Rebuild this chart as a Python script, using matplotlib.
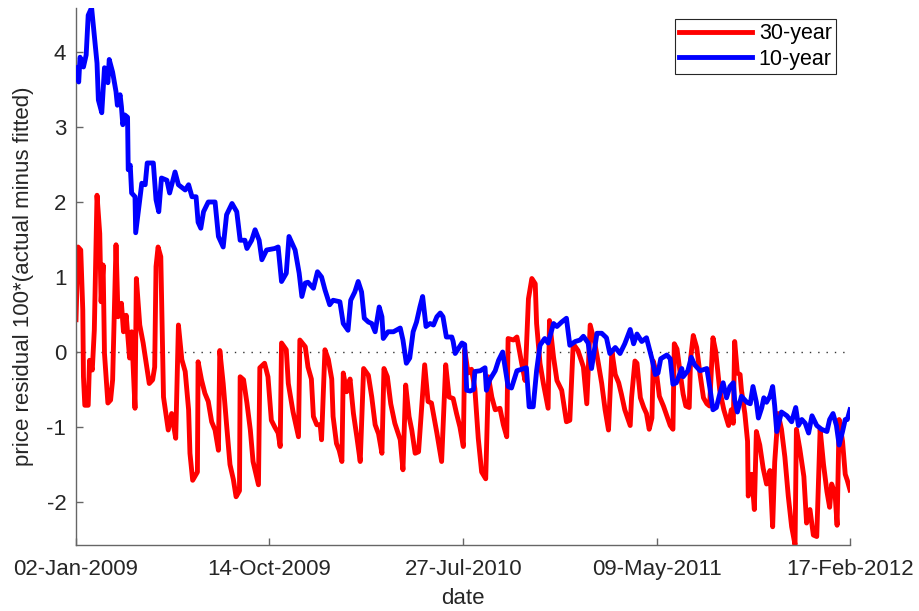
import numpy as np
import pandas as pd
import matplotlib
matplotlib.use('Agg')
import matplotlib.pyplot as plt

plt.rcParams['font.family'] = ['Liberation Sans', 'DejaVu Sans']
plt.rcParams['axes.unicode_minus'] = False

# first day of the sample
start = pd.Timestamp('2009-01-02')
end = pd.Timestamp('2012-02-17')

# 10-year residuals: days since start, value
days10 = [0, 4, 6, 11, 15, 18, 23, 31, 33, 38, 42, 47, 49, 54, 59, 61, 65, 67, 69, 72,
          76, 77, 80, 82, 87, 88, 94, 97, 102, 105, 114, 118, 122, 126, 134, 138, 146, 151, 161, 166,
          171, 177, 180, 184, 188, 195, 205, 210, 217, 222, 230, 237, 242, 249, 252, 259, 264, 270, 274, 281,
          293, 298, 303, 310, 314, 323, 329, 333, 338, 342, 350, 356, 362, 367, 374, 379, 389, 394, 401, 405,
          411, 416, 421, 425, 431, 436, 441, 447, 451, 453, 460, 468, 478, 482, 487, 492, 497, 502, 507, 511,
          516, 522, 527, 532, 537, 541, 546, 554, 556, 559, 564, 569, 573, 576, 581, 586, 588, 596, 603, 605,
          610, 618, 623, 629, 637, 642, 650, 657, 664, 668, 674, 679, 684, 691, 696, 704, 709, 716, 723, 728,
          736, 743, 748, 755, 760, 768, 775, 782, 787, 795, 802, 809, 817, 822, 827, 834, 841, 849, 854, 858,
          862, 871, 876, 880, 885, 893, 895, 902, 907, 912, 920, 930, 935, 939, 944, 949, 954, 959, 964, 969,
          971, 975, 981, 989, 994, 998, 1003, 1006, 1011, 1014, 1018, 1023, 1027, 1030, 1033, 1040, 1048, 1055, 1061, 1065,
          1070, 1075, 1080, 1085, 1092, 1099, 1107, 1111, 1116, 1121, 1125, 1130, 1134, 1137, 1141]
res10 = [3.79, 3.60, 3.93, 3.80, 3.96, 4.49, 4.59, 3.85, 3.36, 3.19, 3.79, 3.59, 3.90, 3.73, 3.47, 3.29, 3.43, 3.27, 3.03, 3.16,
         3.13, 2.43, 2.49, 2.12, 2.07, 1.59, 2.03, 2.25, 2.23, 2.52, 2.52, 2.03, 1.87, 2.32, 2.29, 2.12, 2.40, 2.23, 2.16, 2.23,
         2.07, 2.07, 1.73, 1.65, 1.87, 2.00, 2.00, 1.54, 1.40, 1.83, 1.98, 1.87, 1.49, 1.49, 1.38, 1.49, 1.63, 1.49, 1.23, 1.36,
         1.38, 1.40, 0.94, 1.05, 1.54, 1.36, 1.05, 0.74, 0.92, 0.93, 0.85, 1.07, 1.00, 0.83, 0.63, 0.69, 0.67, 0.38, 0.29, 0.69,
         0.80, 0.94, 0.80, 0.45, 0.40, 0.38, 0.27, 0.60, 0.47, 0.18, 0.27, 0.27, 0.32, 0.16, -0.15, -0.08, 0.27, 0.40, 0.60, 0.74,
         0.34, 0.38, 0.36, 0.47, 0.52, 0.47, 0.20, 0.20, 0.14, -0.02, 0.05, 0.12, 0.10, -0.51, -0.52, -0.50, -0.26, -0.25, -0.21, -0.51,
         -0.37, -0.25, -0.11, 0.00, -0.46, -0.48, -0.25, -0.23, -0.21, -0.73, -0.73, -0.25, 0.09, 0.18, 0.12, 0.38, 0.34, 0.40, 0.45, 0.09,
         0.14, 0.16, 0.21, 0.12, -0.22, 0.25, 0.25, 0.19, -0.02, 0.06, -0.02, 0.11, 0.30, 0.11, 0.24, 0.14, 0.19, -0.09, -0.30, -0.28,
         -0.09, -0.04, -0.09, -0.43, -0.41, -0.22, -0.33, -0.25, -0.07, -0.17, -0.25, -0.22, -0.51, -0.77, -0.74, -0.56, -0.41, -0.61, -0.46, -0.41,
         -0.64, -0.80, -0.59, -0.67, -0.69, -0.46, -0.67, -0.88, -0.74, -0.61, -0.67, -0.59, -0.46, -0.72, -1.06, -0.80, -0.85, -0.93, -0.74, -0.98,
         -0.90, -0.95, -1.08, -0.85, -0.98, -1.03, -1.06, -0.90, -0.82, -0.98, -1.24, -1.06, -0.90, -0.90, -0.77]

# 30-year residuals: days since start, value
days30 = [0, 3, 7, 10, 11, 13, 18, 20, 24, 27, 31, 35, 37, 40, 42, 47, 51, 54, 59, 62,
          67, 70, 74, 79, 82, 87, 89, 94, 99, 108, 113, 116, 118, 121, 125, 129, 136, 141, 147, 151,
          156, 161, 166, 168, 172, 179, 180, 185, 190, 195, 200, 205, 210, 212, 217, 222, 227, 232, 236, 241,
          242, 247, 252, 257, 261, 269, 271, 278, 283, 288, 293, 298, 301, 303, 310, 313, 320, 328, 330, 338,
          342, 347, 350, 355, 360, 362, 367, 372, 377, 379, 384, 388, 392, 394, 399, 404, 409, 414, 419, 424,
          431, 436, 441, 446, 451, 454, 459, 464, 470, 478, 482, 486, 491, 495, 500, 505, 514, 519, 524, 532,
          539, 545, 550, 556, 561, 566, 571, 573, 578, 583, 588, 593, 598, 604, 608, 613, 618, 625, 630, 635,
          637, 645, 650, 657, 662, 667, 672, 677, 679, 684, 689, 696, 698, 704, 709, 716, 723, 728, 733, 740,
          748, 753, 758, 765, 770, 775, 780, 785, 790, 795, 800, 804, 809, 817, 819, 824, 827, 832, 837, 841,
          845, 849, 851, 856, 860, 866, 871, 876, 880, 882, 886, 891, 895, 899, 904, 906, 910, 915, 920, 925,
          930, 934, 939, 943, 949, 955, 962, 966, 969, 971, 975, 979, 981, 986, 990, 991, 996, 1000, 1003, 1008,
          1013, 1018, 1023, 1027, 1030, 1035, 1040, 1045, 1050, 1055, 1060, 1062, 1067, 1073, 1077, 1082, 1087, 1092, 1097, 1102,
          1107, 1111, 1114, 1119, 1122, 1125, 1130, 1134, 1137, 1141]
res30 = [0.43, 1.40, 1.36, 0.56, -0.33, -0.71, -0.71, -0.11, -0.24, 0.29, 2.09, 1.58, 0.67, 1.16, -0.02, -0.68, -0.64, -0.37, 1.43, 0.47,
         0.65, 0.27, 0.49, -0.08, 0.27, -0.75, 0.98, 0.36, 0.12, -0.42, -0.37, -0.20, 1.14, 1.40, 1.27, -0.60, -1.04, -0.82, -1.15, 0.36,
         -0.10, -0.26, -0.77, -1.35, -1.71, -1.60, -0.13, -0.37, -0.55, -0.66, -0.93, -1.04, -1.31, 0.02, -0.42, -0.97, -1.50, -1.70, -1.93, -1.85,
         -0.33, -0.37, -0.68, -1.04, -1.46, -1.77, -0.21, -0.15, -0.33, -0.91, -1.00, -1.08, -1.26, 0.12, 0.03, -0.42, -0.80, -1.13, 0.16, 0.07,
         -0.20, -0.36, -0.86, -0.97, -0.97, -1.17, 0.03, -0.10, -0.36, -0.86, -1.22, -1.31, -1.46, -0.28, -0.53, -0.36, -0.82, -1.13, -1.46, -0.22,
         -0.31, -0.60, -0.97, -1.09, -1.35, -0.22, -0.33, -0.69, -0.95, -1.17, -1.57, -0.44, -0.86, -1.04, -1.35, -1.33, -0.17, -0.66, -0.68, -1.08,
         -1.46, -0.17, -0.60, -0.62, -0.82, -1.00, -1.26, 0.03, -0.28, -0.23, -0.49, -1.15, -1.60, -1.69, -0.33, -0.60, -0.77, -0.75, -0.97, -1.13,
         0.18, 0.16, 0.20, -0.15, -0.38, 0.71, 0.98, 0.91, 0.38, -0.15, -0.42, -0.75, 0.42, -0.07, -0.38, -0.51, -0.93, -0.91, 0.11, 0.02,
         -0.20, -0.69, 0.36, 0.11, -0.15, -0.42, -0.77, -1.04, 0.01, -0.30, -0.41, -0.56, -0.77, -0.98, -0.61, -0.12, -0.15, -0.61, -0.74, -0.82,
         -1.03, -0.88, -0.12, -0.30, -0.59, -0.72, -0.85, -0.98, -1.03, 0.11, 0.04, -0.30, -0.56, -0.72, -0.74, -0.09, 0.22, 0.06, -0.30, -0.61,
         -0.69, -0.72, 0.19, 0.01, -0.51, -0.77, -0.98, -0.77, -0.95, 0.14, -0.28, -0.30, -0.51, -0.82, -1.19, -1.92, -1.63, -2.10, -1.06, -1.24,
         -1.55, -1.76, -1.58, -2.33, -1.47, -0.82, -1.03, -1.40, -1.92, -2.33, -2.57, -1.03, -1.29, -1.66, -2.28, -2.10, -2.44, -2.46, -1.03, -1.50,
         -1.86, -2.07, -1.76, -1.89, -2.31, -0.90, -1.19, -1.63, -1.71, -1.84]

tick_labels = ['02-Jan-2009', '14-Oct-2009', '27-Jul-2010', '09-May-2011', '17-Feb-2012']
y_ticks = [-2, -1, 0, 1, 2, 3, 4]

dates10 = start + pd.to_timedelta(days10, unit='D')
dates30 = start + pd.to_timedelta(days30, unit='D')

fig = plt.figure(figsize=(9.2, 6.11), dpi=100)
ax = fig.add_axes([0.0826, 0.108, 0.8413, 0.879])

# linea punteada en cero
ax.plot([start, end], [0, 0], color='#333333', linewidth=1.0, dashes=(1, 5), zorder=1)

ax.plot(dates30, res30, color='#ff0000', linewidth=3.5, label='30-year', zorder=2)
ax.plot(dates10, res10, color='#0000ff', linewidth=3.5, label='10-year', zorder=3)

ax.set_xlim(start, end)
ax.set_ylim(-2.573, 4.587)

ax.set_xticks(pd.to_datetime(tick_labels, format='%d-%b-%Y'))
ax.set_xticklabels(tick_labels)
ax.set_yticks(y_ticks)

ax.spines['top'].set_visible(False)
ax.spines['right'].set_visible(False)
for s in ['left', 'bottom']:
    ax.spines[s].set_color('#666666')
    ax.spines[s].set_linewidth(1.0)

ax.tick_params(direction='in', length=5, width=1.0, color='#666666',
               labelsize=16, labelcolor='#262626')
ax.tick_params(axis='x', pad=10)
ax.tick_params(axis='y', pad=7)

ax.set_xlabel('date', fontsize=16, color='#262626', labelpad=6)
ax.set_ylabel('price residual 100*(actual minus fitted)', fontsize=16, color='#262626', labelpad=9)

leg = ax.legend(loc='upper right', bbox_to_anchor=(0.982, 0.9795), borderaxespad=0,
                fontsize=15.5, handlelength=3.4, fancybox=False, framealpha=1,
                borderpad=0.2, labelspacing=0.2, handletextpad=0.3)
leg.get_frame().set_edgecolor('#262626')
leg.get_frame().set_linewidth(0.8)

fig.savefig('out.png', dpi=100)
